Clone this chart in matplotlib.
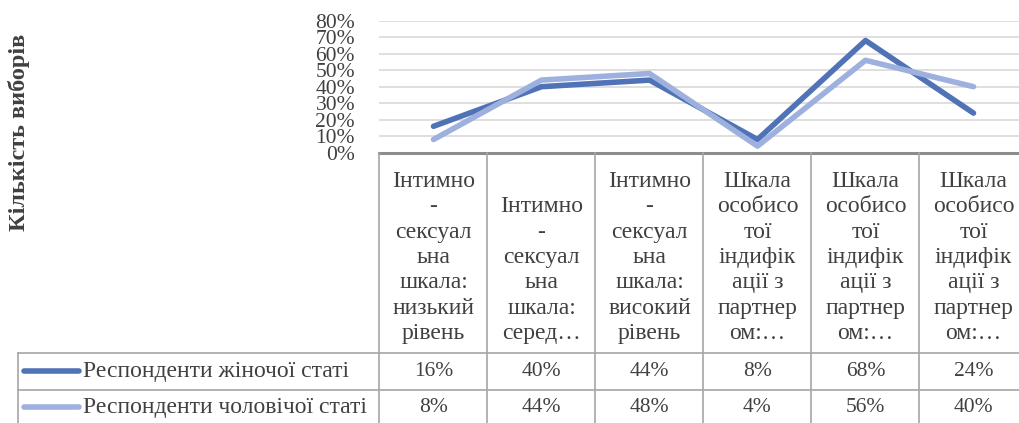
import matplotlib.pyplot as plt
import matplotlib.transforms as mtransforms
import numpy as np

# chart data
categories = [
    "Інтимно\n-\nсексуал\nьна\nшкала:\nнизький\nрівень",
    "Інтимно\n-\nсексуал\nьна\nшкала:\nсеред…",
    "Інтимно\n-\nсексуал\nьна\nшкала:\nвисокий\nрівень",
    "Шкала\nособисо\nтої\nіндифік\nації з\nпартнер\nом:…",
    "Шкала\nособисо\nтої\nіндифік\nації з\nпартнер\nом:…",
    "Шкала\nособисо\nтої\nіндифік\nації з\nпартнер\nом:…",
]
series_names = ["Респонденти жіночої статі", "Респонденти чоловічої статі"]
female = [0.16, 0.40, 0.44, 0.08, 0.68, 0.24]
male = [0.08, 0.44, 0.48, 0.04, 0.56, 0.40]
y_ticks = [0, 0.1, 0.2, 0.3, 0.4, 0.5, 0.6, 0.7, 0.8]
y_label = "Кількість виборів"

colors = ["#4F73B6", "#9DB0DE"]
text_c = "#404040"
grid_c = "#D9D9D9"
tab_c = "#A6A6A6"
FS = 15.5    # numbers
FS_T = 17    # cyrillic text

plt.rcParams['font.family'] = ['Liberation Serif', 'DejaVu Serif']

W, H = 1020, 423
fig = plt.figure(figsize=(W / 100, H / 100), dpi=100)

def fy(py):
    # pixel from top -> figure fraction
    return 1 - py / H

def fx(px):
    return px / W

left, col_w = 379.5, 108.0
y0, y80 = 152.7, 20.7
n = len(categories)
ax = fig.add_axes([fx(left), fy(y0), fx(col_w * n), (y0 - y80) / H])
ax.set_xlim(0, n)
ax.set_ylim(0, 0.8)
x = np.arange(n) + 0.5

for vals, c in zip([female, male], colors):
    ax.plot(x, vals, color=c, lw=4, solid_capstyle='round',
            solid_joinstyle='round', zorder=3)

ax.set_yticks(y_ticks)
ax.set_yticklabels([f"{int(round(t * 100))}%" for t in y_ticks])
ax.tick_params(axis='y', length=0, pad=17.6, labelsize=FS, labelcolor=text_c)
ax.set_xticks([])
ax.grid(axis='y', color=grid_c, lw=1.2)
for s in ax.spines.values():
    s.set_visible(False)

# data table
bt = fig.transFigure
blend = mtransforms.blended_transform_factory(ax.transData, fig.transFigure)

row1, row2, bottom = 353.0, 390.0, 427.0
fig.add_artist(plt.Line2D([fx(left), 1.02], [fy(y0), fy(y0)], color="#8C8C8C", lw=2.2, transform=bt))
for yy in (row1, row2, bottom):
    fig.add_artist(plt.Line2D([fx(18), 1.02], [fy(yy), fy(yy)], color=tab_c, lw=1.2, transform=bt))
fig.add_artist(plt.Line2D([fx(18), fx(18)], [fy(row1), fy(bottom)], color=tab_c, lw=1.2, transform=bt))
for i in range(n + 1):
    fig.add_artist(plt.Line2D([i, i], [fy(y0), fy(bottom)], color=tab_c, lw=1.2, transform=blend))

for xi, lab in zip(x, categories):
    fig.text(xi, fy(344), lab, transform=blend, ha='center', va='bottom',
             fontsize=FS_T, color=text_c, linespacing=1.27)

row_y = [371.5, 407.5]
for vals, name, c, ry in zip([female, male], series_names, colors, row_y):
    fig.add_artist(plt.Line2D([fx(24), fx(79)], [fy(ry - 1), fy(ry - 1)], color=c, lw=4,
                              solid_capstyle='round', transform=bt))
    fig.text(fx(83), fy(ry), name, ha='left', va='center', fontsize=FS_T, color=text_c)
    for xi, v in zip(x, vals):
        fig.text(xi, fy(ry), f"{int(round(v * 100))}%", transform=blend,
                 ha='center', va='center', fontsize=FS, color=text_c)

fig.text(fx(19), fy(132), y_label, rotation=90, ha='center', va='center',
         fontsize=17.5, fontweight='bold', color=text_c)

fig.savefig("out.png", dpi=100)
